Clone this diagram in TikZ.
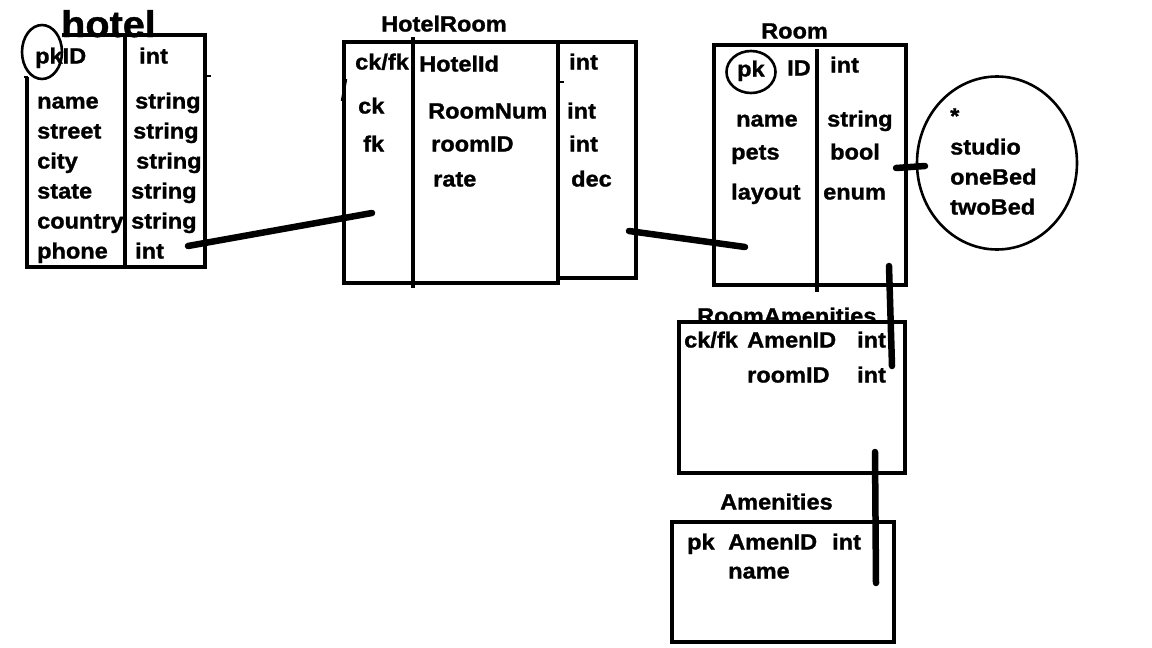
\documentclass[tikz,border=0pt]{standalone}
\usepackage{fontspec}
\setmainfont{Liberation Sans}[FakeStretch=1.07,FakeBold=1.2]
\usetikzlibrary{shapes.geometric}
\begin{document}
\begin{tikzpicture}[x=1pt,y=-1pt,
  t/.style={anchor=base west, inner sep=0pt, yshift=-1.5pt, font=\fontsize{22}{26}\selectfont\bfseries},
  ttl/.style={anchor=base west, inner sep=0pt, yshift=-1.5pt, font=\fontsize{22}{26}\selectfont\bfseries},
  big/.style={anchor=base west, inner sep=0pt, font=\fontsize{37}{40}\selectfont\bfseries},
  ln/.style={line width=3.3pt},
  box/.style={draw, line width=3.3pt, rectangle, inner sep=0pt},
  oval/.style={draw, ellipse, line width=2.6pt, inner sep=0pt},
  conn/.style={line width=6.5pt, line cap=round}]
\useasboundingbox (0,0) rectangle (1152,648);
\fill[white] (0,0) rectangle (1152,648);

% ---------------- hotel ----------------
\draw[ln] (62,35) -- (205,35) -- (205,267);
\draw[ln] (27,77) -- (27,267) -- (207,267);
\draw[ln] (125,35) -- (125,265);
\draw[line width=2pt] (205,76) -- (211,76);
\draw[line width=2pt] (24,77) -- (28,77);
\node[big] (hotelT) at (61,37) {hotel};
\node[t] (h1) at (35,62) {pkID};
\node[t] (h1t) at (139,62) {int};
\node[t] (h2) at (37,107) {name};
\node[t] (h2t) at (135,107) {string};
\node[t] (h3) at (37,137) {street};
\node[t] (h3t) at (133,137) {string};
\node[t] (h4) at (37,167) {city};
\node[t] (h4t) at (136,167) {string};
\node[t] (h5) at (37,197) {state};
\node[t] (h5t) at (131,197) {string};
\node[t] (h6) at (37,227) {country};
\node[t] (h6t) at (131,227) {string};
\node[t] (h7) at (37,257) {phone};
\node[t] (h7t) at (135,257) {int};
\node[oval, minimum width=40, minimum height=54] (hpk) at (42,52) {};

% ---------------- HotelRoom ----------------
\node[box, minimum width=214, minimum height=241] (hrA) at (451,162.5) {};
\node[box, minimum width=78, minimum height=236] (hrB) at (597,160) {};
\draw[ln] (413,37) -- (413,288);
\draw[line width=2pt] (558,82) -- (564,82);
\draw[line width=2.5pt] (346,79) -- (342,101);
\node[ttl] (hrT) at (381,30) {HotelRoom};
\node[t] (r1) at (355,68) {ck/fk};
\node[t] (r1n) at (419,70) {HotelId};
\node[t] (r1t) at (569,68) {int};
\node[t] (r2) at (358,112) {ck};
\node[t] (r2n) at (428,117) {RoomNum};
\node[t] (r2t) at (567,117) {int};
\node[t] (r3) at (363,150) {fk};
\node[t] (r3n) at (431,150) {roomID};
\node[t] (r3t) at (569,150) {int};
\node[t] (r4n) at (433,185) {rate};
\node[t] (r4t) at (571,185) {dec};

% ---------------- Room ----------------
\node[box, minimum width=192, minimum height=240] (room) at (810,165) {};
\draw[ln] (817,49) -- (817,292);
\node[ttl] (roomT) at (761,37) {Room};
\node[t] (m1) at (737,75) {pk};
\node[t] (m1n) at (787,74) {ID};
\node[t] (m1t) at (830,71) {int};
\node[oval, minimum width=49, minimum height=42] (mpk) at (751,72) {};
\node[t] (m2) at (736,125) {name};
\node[t] (m2t) at (827,125) {string};
\node[t] (m3) at (731,158) {pets};
\node[t] (m3t) at (830,158) {bool};
\node[t] (m4) at (731,198) {layout};
\node[t] (m4t) at (823,198) {enum};

% enum circle
\node[oval, minimum width=160, minimum height=173] (enumC) at (997,163) {};
\node[t] (e0) at (950,122) {*};
\node[t] (e1) at (950,153) {studio};
\node[t] (e2) at (950,183) {oneBed};
\node[t] (e3) at (950,213) {twoBed};

% ---------------- RoomAmenities ----------------
\node[ttl] (raT) at (697,322) {RoomAmenities};
\node[box, minimum width=226, minimum height=151] (ra) at (792,397.5) {};
\node[t] (a1) at (684,346) {ck/fk};
\node[t] (a1n) at (747,346) {AmenID};
\node[t] (a1t) at (857,346) {int};
\node[t] (a2n) at (747,381) {roomID};
\node[t] (a2t) at (857,381) {int};

% ---------------- Amenities ----------------
\node[ttl] (amT) at (720,508) {Amenities};
\node[box, minimum width=222, minimum height=120] (am) at (783,582) {};
\node[t] (b1) at (687,548) {pk};
\node[t] (b1n) at (728,548) {AmenID};
\node[t] (b1t) at (832,548) {int};
\node[t] (b2n) at (728,577) {name};

% ---------------- connectors ----------------
\coordinate (c1a) at (188,246);
\coordinate (c1b) at (372,213);
\coordinate (c2a) at (629,231);
\coordinate (c2b) at (745,247);
\coordinate (c3a) at (896,168);
\coordinate (c3b) at (925,166);
\coordinate (c4a) at (889,266);
\coordinate (c4b) at (892,366);
\coordinate (c5a) at (875,452);
\coordinate (c5b) at (876,583);
\draw[conn] (c1a) -- (c1b);
\draw[conn] (c2a) -- (c2b);
\draw[conn] (c3a) -- (c3b);
\draw[conn] (c4a) -- (c4b);
\draw[conn] (c5a) -- (c5b);
\end{tikzpicture}
\end{document}
